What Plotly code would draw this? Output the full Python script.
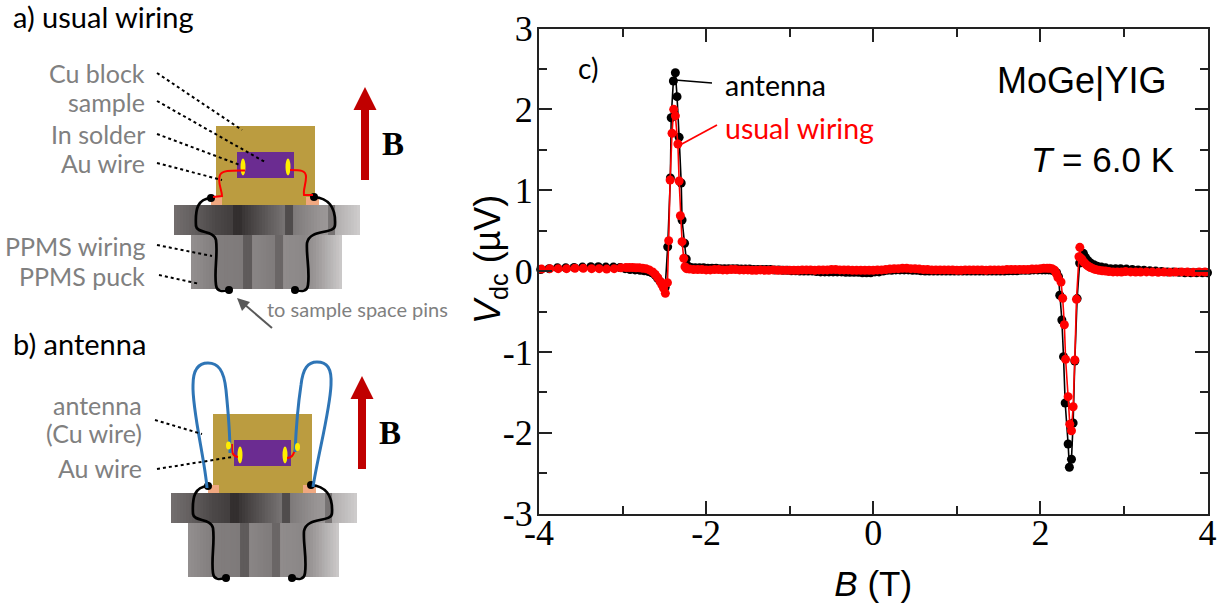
import re
import plotly.graph_objects as go

# ---------- data ----------
red_B = [-3.97,-3.87,-3.77,-3.67,-3.57,-3.47,-3.37,-3.28,-3.19,-3.10,-3.02,-2.96,-2.92,-2.88,-2.84,-2.80,-2.76,-2.72,-2.68,-2.64,-2.61,-2.58,-2.55,-2.53,-2.51,
 -2.488,-2.463,-2.448,-2.431,-2.408,-2.388,-2.368,-2.338,-2.323,-2.308,-2.288,-2.268,-2.253,-2.235,
 -2.20,-2.15,-2.10,-2.05,-2.00,-1.95,-1.90,-1.85,-1.80,-1.75,-1.70,-1.65,-1.60,-1.55,-1.50,-1.45,-1.40,-1.35,-1.30,-1.25,-1.20,-1.15,-1.10,-1.05,-1.00,
 -0.95,-0.90,-0.85,-0.80,-0.75,-0.70,-0.65,-0.60,-0.55,-0.50,-0.45,-0.40,-0.35,-0.30,-0.25,-0.20,-0.15,-0.10,-0.05,0.00,
 0.05,0.10,0.15,0.20,0.25,0.30,0.35,0.40,0.45,0.50,0.55,0.60,0.65,0.70,0.75,0.80,0.85,0.90,0.95,1.00,
 1.05,1.10,1.15,1.20,1.25,1.30,1.35,1.40,1.45,1.50,1.55,1.60,1.65,1.70,1.75,1.80,1.85,1.90,1.95,2.00,
 2.04,2.08,2.11,2.14,2.17,2.19,2.21,2.247,2.267,2.287,2.302,2.332,2.352,2.372,2.392,2.412,2.432,2.462,2.472,2.485,
 2.50,2.52,2.54,2.56,2.58,2.60,2.63,2.66,2.70,2.74,2.78,2.82,2.87,2.92,2.97,3.02,3.08,3.14,3.20,3.27,3.34,3.41,3.48,3.55,3.62,3.69,3.76,3.83,3.90,3.97]
red_V = [.025,.03,.03,.03,.035,.035,.03,.03,.025,.03,.04,.045,.045,.045,.04,.04,.035,.03,.015,-.01,-.04,-.08,-.13,-.17,-.21,
 -.275,-.143,.376,1.127,1.704,2.0,1.92,1.572,1.114,.685,.364,.158,.054,.03,
 .025,.02,.02,.02,.015,.015,.02,.02,.015,.015,.02,.02,.015,.015,.015,.01,.01,.015,.01,.01,.015,.01,.01,.01,.01,
 .01,.01,.015,.015,.015,.01,.015,.015,.015,.02,.02,.015,.015,.015,.01,.01,.01,.01,.01,.01,
 .015,.015,.02,.025,.03,.03,.035,.035,.03,.03,.025,.02,.02,.015,.015,.015,.015,.015,.015,.01,
 .01,.015,.015,.015,.015,.015,.01,.015,.015,.015,.015,.02,.02,.02,.02,.02,.02,.025,.025,.03,
 .035,.035,.035,.03,.01,-.03,-.08,-.135,-.336,-.663,-1.091,-1.553,-1.894,-1.974,-1.677,-1.099,-.349,.178,.294,.16,
 .14,.11,.09,.07,.055,.045,.03,.02,.01,.005,0,-.005,-.01,-.01,-.012,-.005,-.01,-.012,-.012,-.01,-.012,-.015,-.012,-.015,-.012,-.01,-.012,-.015,-.01,-.012]

black_B = [-3.98,-3.88,-3.78,-3.68,-3.58,-3.48,-3.38,-3.29,-3.20,-3.11,-3.03,-2.97,-2.91,-2.85,-2.79,-2.74,-2.69,-2.65,-2.61,-2.58,-2.55,-2.52,-2.49,-2.46,
 -2.428,-2.418,-2.392,-2.368,-2.348,-2.323,-2.298,-2.288,-2.258,-2.238,-2.215,
 -2.18,-2.13,-2.08,-2.03,-1.98,-1.93,-1.88,-1.83,-1.78,-1.73,-1.68,-1.63,-1.58,-1.53,-1.48,-1.43,-1.38,-1.33,-1.28,-1.23,-1.18,-1.13,-1.08,-1.03,
 -0.98,-0.93,-0.88,-0.83,-0.78,-0.73,-0.68,-0.63,-0.58,-0.53,-0.48,-0.43,-0.38,-0.33,-0.28,-0.23,-0.18,-0.13,-0.08,-0.03,
 0.02,0.07,0.12,0.17,0.22,0.27,0.32,0.37,0.42,0.47,0.52,0.57,0.62,0.67,0.72,0.77,0.82,0.87,0.92,0.97,
 1.02,1.07,1.12,1.17,1.22,1.27,1.32,1.37,1.42,1.47,1.52,1.57,1.62,1.67,1.72,1.77,1.82,1.87,1.92,1.97,
 2.02,2.06,2.10,2.14,2.17,2.195,2.217,2.232,2.257,2.277,2.297,2.332,2.347,2.372,2.392,2.412,2.44,2.47,2.515,2.54,
 2.57,2.60,2.64,2.68,2.73,2.78,2.84,2.90,2.96,3.03,3.10,3.17,3.24,3.31,3.38,3.45,3.52,3.59,3.66,3.73,3.80,3.87,3.94,4.00]
black_V = [.02,.03,.04,.04,.045,.05,.055,.055,.05,.05,.045,.03,.02,.015,.01,.005,-.005,-.02,-.05,-.09,-.13,-.17,-.2,.3,
 1.151,1.897,2.351,2.453,2.157,1.654,1.089,.632,.344,.15,.06,
 .045,.04,.04,.04,.035,.035,.035,.03,.03,.03,.03,.03,.025,.025,.025,.02,.02,.02,.02,.02,.015,.015,.01,.01,
 .005,.005,0,0,0,0,-.005,-.01,-.01,-.01,-.01,-.01,-.01,-.015,-.015,-.015,-.015,-.02,-.02,-.02,
 -.01,-.01,0,.01,.01,.015,.015,.015,.015,.01,.01,.005,0,0,0,0,0,0,0,0,
 0,0,0,0,0,0,0,0,0,0,0,0,.005,.005,.005,.01,.01,.01,.015,.015,
 .015,.015,.015,.01,0,-.02,-.07,-.299,-.605,-1.058,-1.631,-2.138,-2.426,-2.327,-1.878,-1.112,-.34,.1,.22,.17,
 .13,.1,.08,.06,.05,.04,.03,.03,.03,.025,.02,.015,.01,.005,0,-.005,-.01,-.01,-.015,-.02,-.02,-.02,-.02,-.02]

x_tick_vals = [-4,-2,0,2,4]
x_tick_text = ["-4","-2","0","2","4"]
y_tick_vals = [-3,-2,-1,0,1,2,3]
y_tick_text = ["-3","-2","-1","0","1","2","3"]

W, H = 1228, 610
SERIF, SANS, HUM = "Liberation Serif", "Liberation Sans", "Lato"
GREY = "#808080"

def fx(x): return x / W
def fy(y): return 1 - y / H

def svg(d):
    parts = re.findall(r"[A-Za-z]|-?\d+\.?\d*", d)
    out, i = [], 0
    for p in parts:
        if p.isalpha():
            out.append(p)
        else:
            out.append(f"{fx(float(p)) if i % 2 == 0 else fy(float(p)):.5f}")
            i += 1
    return " ".join(out)

shapes, notes = [], []

def rect(x0, y0, x1, y1, color):
    shapes.append(dict(type="rect", xref="paper", yref="paper", x0=fx(x0), x1=fx(x1), y0=fy(y1), y1=fy(y0),
                       fillcolor=color, line=dict(width=0)))

def ell(cx, cy, rx, ry, color):
    shapes.append(dict(type="circle", xref="paper", yref="paper", x0=fx(cx-rx), x1=fx(cx+rx), y0=fy(cy+ry), y1=fy(cy-ry),
                       fillcolor=color, line=dict(width=0)))

def curve(d, color, width=2.5, dash="solid"):
    shapes.append(dict(type="path", xref="paper", yref="paper", path=svg(d), line=dict(color=color, width=width, dash=dash)))

def poly(d, color):
    shapes.append(dict(type="path", xref="paper", yref="paper", path=svg(d), fillcolor=color, line=dict(width=0)))

def text(x, y, s, size, color="#000", font=HUM, anchor="right", **kw):
    notes.append(dict(xref="paper", yref="paper", x=fx(x), y=fy(y), text=s, showarrow=False, xanchor=anchor, yanchor="middle",
                      borderpad=0, font=dict(family=font, size=size, color=color), **kw))

def hexmix(a, b, t):
    ca = [int(a[i:i+2], 16) for i in (1, 3, 5)]
    cb = [int(b[i:i+2], 16) for i in (1, 3, 5)]
    return "#%02x%02x%02x" % tuple(round(p + (q - p) * t) for p, q in zip(ca, cb))

def shaded(y0, y1, dx, stops):
    # each later strip paints over the 1 px overlap of the one before, which hides seams
    for (a, ca), (b, cb) in zip(stops, stops[1:]):
        n = max(1, round((b - a) / 3))
        for i in range(n):
            l = a + (b - a) * i / n
            r = a + (b - a) * (i + 1) / n
            rect(l + dx, y0, min(r + 1, stops[-1][0]) + dx, y1, hexmix(ca, cb, (i + .5) / n))

FLANGE = [(174,"#736e6e"),(195,"#625e5e"),(215,"#4c4848"),(233,"#423e3e"),(233.1,"#332f2f"),(242,"#332f2f"),(242.1,"#393535"),
          (262,"#565252"),(285,"#787474"),(285.1,"#504c4c"),(293,"#504c4c"),(293.1,"#7e7a7a"),(320,"#989494"),(328,"#9c9898"),
          (328.1,"#777373"),(335,"#777373"),(335.1,"#b0adad"),(360,"#cfcdcd")]
PUCK = [(191,"#938f8f"),(215,"#827e7e"),(243,"#7e7a7a"),(243.1,"#5f5b5b"),(252,"#5f5b5b"),(252.1,"#8a8686"),(275,"#7f7b7b"),
        (275.1,"#6a6666"),(283,"#6a6666"),(283.1,"#908c8c"),(305,"#8b8787"),(316,"#9c9898"),(342,"#cdcbcb")]

def arrow(dx, dy):
    rect(361+dx, 110+dy, 369+dx, 180+dy, "#C00000")
    poly(f"M {365+dx} {87+dy} L {376.5+dx} {110+dy} L {353.5+dx} {110+dy} Z", "#C00000")
    text(393+dx, 144+dy, "<b>B</b>", 33, font=SERIF, anchor="center")

def assembly(dx, dy):
    rect(216+dx, 126+dy, 315+dx, 205+dy, "#BB9C40")
    rect(211+dx, 197+dy, 222+dx, 205+dy, "#F0A880")
    rect(306+dx, 197+dy, 319+dx, 205+dy, "#F0A880")
    shaded(235+dy, 289+dy, dx, PUCK)
    shaded(205+dy, 235+dy, dx, FLANGE)
    rect(237+dx, 152+dy, 294+dx, 178+dy, "#6B2C91")
    ell(243+dx, 167+dy, 2.5, 8.5, "#FFEE00")
    ell(288+dx, 167+dy, 2.5, 8.5, "#FFEE00")
    curve(f"M {211+dx} {198+dy} C {198+dx} {199+dy} {195+dx} {208+dy} {196+dx} {226+dy} "
          f"C {197+dx} {234+dy} {214+dx} {230+dy} {216+dx} {240+dy} C {218+dx} {255+dy} {214+dx} {270+dy} {216+dx} {285+dy} "
          f"C {217+dx} {293+dy} {224+dx} {291+dy} {229+dx} {290+dy}", "#000", 2.7)
    curve(f"M {314+dx} {197+dy} C {328+dx} {198+dy} {336+dx} {207+dy} {335+dx} {225+dy} "
          f"C {335+dx} {235+dy} {310+dx} {228+dy} {307+dx} {243+dy} C {306+dx} {255+dy} {310+dx} {270+dy} {308+dx} {285+dy} "
          f"C {307+dx} {293+dy} {300+dx} {291+dy} {295+dx} {290+dy}", "#000", 2.7)
    for cx, cy in [(211,198),(314,197),(229,290),(295,290)]:
        ell(cx+dx, cy+dy, 4, 4, "#000")

def dotted(x0, y0, x1, y1):
    curve(f"M {x0} {y0} L {x1} {y1}", "#000", 2, "dot")

# panel a
assembly(0, 0)
curve("M 245 170.5 C 232 170.5 222 170 220 175 C 217 182 222 190 222 196 L 213 197", "#FF0000", 2)
curve("M 290 170 C 300 170 306 170 306 177 C 306 184 303 190 304 195 L 313 195", "#FF0000", 2)
arrow(0, 0)
for x0, y0, x1, y1 in [(157,73,242,130),(157,101,265,162),(157,134,240,165),(157,163,222,180),(157,245,212,256),(159,275,200,284)]:
    dotted(x0, y0, x1, y1)
text(12, 16, "a) usual wiring", 29, anchor="left")
for y, s in [(73,"Cu block"),(102,"sample"),(134,"In solder"),(163,"Au wire"),(246,"PPMS wiring"),(276,"PPMS puck")]:
    text(146, y, s, 25, GREY)
curve("M 272 328 L 244 304", "#595959", 2)
poly("M 237 298 L 250 302 L 242 311 Z", "#595959")
text(266, 309, "to sample space pins", 20, GREY, anchor="left")

# panel b
assembly(-3, 288)
curve("M 232 444 C 232 450 231 456 238 457", "#FF0000", 2)
curve("M 295 450 C 293 455 292 458 287 458", "#FF0000", 2)
curve("M 207 488 C 205 460 192 410 193 385 C 193 370 198 363 208 363 C 218 363 224 370 226 390 C 228 410 230 430 230 453", "#2E75B6", 3)
curve("M 313 487 C 318 455 330 410 331 385 C 332 368 327 362 317 362 C 308 362 303 368 301 385 C 298 405 296 430 295 452", "#2E75B6", 3)
ell(228.5, 445.5, 2.5, 4, "#FFEE00")
ell(297.5, 447, 2.5, 4, "#FFEE00")
arrow(-3, 289)
dotted(155, 420, 202, 434)
dotted(157, 469, 232, 457)
text(12, 343, "b) antenna", 29, anchor="left")
text(143, 405, "antenna", 25, GREY)
text(143, 433, "(Cu wire)", 25, GREY)
text(143, 468, "Au wire", 25, GREY)

# callouts of panel c
curve("M 675 80 L 712 83", "#000", 1.7)
curve("M 680 145 L 717 125", "#FF0000", 1.7)
text(577, 68, "c)", 28, anchor="left")
text(724, 85, "antenna", 28.5, anchor="left")
text(724, 128, "usual wiring", 28.5, "#FF0000", anchor="left")
text(1167, 80, "MoGe|YIG", 36, font=SANS)
text(1175, 159, "<i>T</i> = 6.0 K", 35, font=SANS)
text(490, 260, "<i>V</i><sub>dc</sub> (µV)", 36, font=SANS, anchor="center", textangle=-90)

fig = go.Figure()
fig.add_trace(go.Scatter(x=black_B, y=black_V, mode="lines+markers", name="antenna", cliponaxis=False,
                         line=dict(color="#000", width=1.6), marker=dict(color="#000", size=9)))
fig.add_trace(go.Scatter(x=red_B, y=red_V, mode="lines+markers", name="usual wiring", cliponaxis=False,
                         line=dict(color="#FF0000", width=1.6), marker=dict(color="#FF0000", size=9)))

axis = dict(showgrid=False, zeroline=False, showline=True, linecolor="#222", linewidth=2, mirror="allticks",
            ticks="inside", ticklen=13, tickwidth=1.6, tickcolor="#222", tickmode="array", automargin=False,
            tickfont=dict(family=SERIF, size=36, color="#000"))
fig.update_layout(
    width=W, height=H, margin=dict(l=0, r=0, t=0, b=0, autoexpand=False), showlegend=False,
    paper_bgcolor="#fff", plot_bgcolor="rgba(0,0,0,0)", shapes=shapes, annotations=notes,
    xaxis=dict(axis, domain=[fx(539), fx(1207.5)], range=[-4, 4], tickvals=x_tick_vals, ticktext=x_tick_text, ticklabelstandoff=-14,
               minor=dict(dtick=1, tick0=0, ticks="inside", ticklen=8, tickwidth=1.6, tickcolor="#222"),
               title=dict(text="<i>B</i> (T)", font=dict(family=SANS, size=35, color="#000"), standoff=20)),
    yaxis=dict(axis, domain=[fy(513.7), fy(28.5)], range=[-3, 3], tickvals=y_tick_vals, ticktext=y_tick_text, ticklabelstandoff=-3,
               minor=dict(dtick=0.5, tick0=0, ticks="inside", ticklen=8, tickwidth=1.6, tickcolor="#222")),
)
fig.write_html("out.html", config={"displayModeBar": False},
               post_script="document.body.style.margin='0';document.body.style.overflow='hidden';")
